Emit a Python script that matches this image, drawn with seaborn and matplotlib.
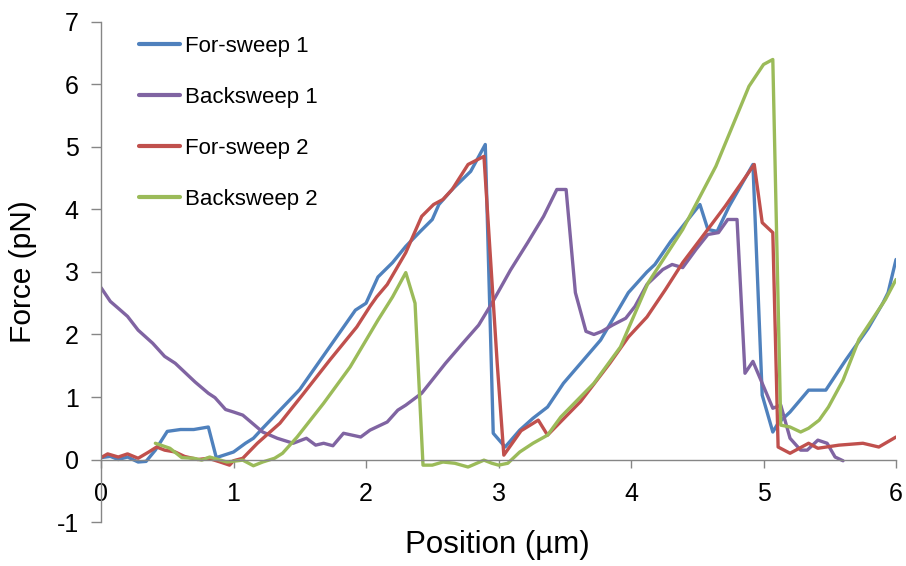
import matplotlib
matplotlib.use("Agg")
import matplotlib.pyplot as plt
import seaborn as sns
import pandas as pd

# ---- data ----
fs1_x = [0.0, 0.07, 0.13, 0.2, 0.28, 0.34, 0.41, 0.5, 0.6, 0.7, 0.81, 0.87, 1.0, 1.09, 1.15, 1.22,
         1.5, 1.92, 2.0, 2.09, 2.2, 2.3, 2.41, 2.5, 2.55, 2.65, 2.79, 2.9, 2.96, 3.05, 3.16, 3.26,
         3.37, 3.49, 3.62, 3.77, 3.98, 4.12, 4.18, 4.3, 4.43, 4.52, 4.58, 4.65, 4.74, 4.92, 4.99,
         5.07, 5.11, 5.2, 5.34, 5.47, 5.62, 5.79, 5.9, 5.94, 6.0]
fs1_y = [0.03, 0.05, 0.0, 0.04, -0.04, -0.03, 0.15, 0.45, 0.48, 0.48, 0.52, 0.03, 0.12, 0.26, 0.34, 0.5,
         1.12, 2.39, 2.5, 2.92, 3.15, 3.41, 3.65, 3.84, 4.08, 4.32, 4.61, 5.04, 0.42, 0.2, 0.47, 0.66,
         0.84, 1.22, 1.54, 1.91, 2.67, 3.0, 3.12, 3.49, 3.84, 4.08, 3.68, 3.65, 4.05, 4.72, 1.03,
         0.44, 0.58, 0.76, 1.11, 1.11, 1.59, 2.1, 2.5, 2.67, 3.2]

bs1_x = [0.0, 0.07, 0.13, 0.2, 0.28, 0.39, 0.48, 0.56, 0.71, 0.81, 0.86, 0.94, 1.0, 1.07, 1.22, 1.33,
         1.45, 1.55, 1.62, 1.68, 1.75, 1.83, 1.96, 2.03, 2.11, 2.16, 2.24, 2.3, 2.42, 2.6, 2.73, 2.85,
         2.95, 3.09, 3.22, 3.34, 3.44, 3.51, 3.58, 3.66, 3.72, 3.78, 3.86, 3.96, 4.03, 4.12, 4.24,
         4.31, 4.39, 4.49, 4.58, 4.66, 4.73, 4.8, 4.86, 4.92, 5.07, 5.13, 5.2, 5.28, 5.33, 5.41,
         5.48, 5.54, 5.6]
bs1_y = [2.75, 2.53, 2.42, 2.29, 2.07, 1.86, 1.65, 1.54, 1.24, 1.06, 0.99, 0.8, 0.76, 0.71, 0.44, 0.34,
         0.26, 0.34, 0.23, 0.26, 0.22, 0.42, 0.36, 0.47, 0.55, 0.6, 0.79, 0.87, 1.06, 1.54, 1.86, 2.15,
         2.5, 3.03, 3.47, 3.89, 4.32, 4.32, 2.67, 2.05, 2.0, 2.05, 2.15, 2.26, 2.45, 2.8, 3.04,
         3.12, 3.07, 3.36, 3.6, 3.63, 3.84, 3.84, 1.38, 1.57, 0.82, 0.87, 0.34, 0.15, 0.15, 0.31,
         0.26, 0.04, -0.02]

fs2_x = [0.0, 0.05, 0.13, 0.2, 0.28, 0.36, 0.42, 0.48, 0.56, 0.63, 0.73, 0.81, 0.9, 0.97, 1.0, 1.07,
         1.18, 1.35, 1.53, 1.73, 1.93, 2.03, 2.08, 2.16, 2.3, 2.42, 2.51, 2.58, 2.65, 2.77, 2.89,
         2.99, 3.04, 3.17, 3.3, 3.37, 3.62, 3.84, 3.98, 4.12, 4.26, 4.39, 4.54, 4.71, 4.93, 4.99,
         5.07, 5.11, 5.2, 5.34, 5.41, 5.57, 5.75, 5.87, 6.0]
fs2_y = [0.03, 0.09, 0.04, 0.09, 0.02, 0.12, 0.2, 0.15, 0.12, 0.05, 0.0, 0.02, -0.04, -0.09, -0.02, 0.02,
         0.26, 0.58, 1.06, 1.6, 2.12, 2.45, 2.6, 2.8, 3.31, 3.89, 4.08, 4.16, 4.32, 4.72, 4.85,
         1.54, 0.07, 0.46, 0.63, 0.39, 0.93, 1.54, 1.96, 2.28, 2.72, 3.15, 3.57, 4.05, 4.72, 3.79,
         3.63, 0.2, 0.1, 0.26, 0.18, 0.23, 0.26, 0.2, 0.36]

bs2_x = [0.41, 0.52, 0.61, 0.7, 0.76, 0.82, 0.95, 1.07, 1.15, 1.22, 1.31, 1.37, 1.48, 1.68, 1.88,
         2.09, 2.2, 2.3, 2.37, 2.43, 2.5, 2.58, 2.67, 2.77, 2.89, 2.95, 3.0, 3.07, 3.16, 3.26, 3.37,
         3.47, 3.72, 3.92, 4.13, 4.39, 4.64, 4.89, 5.0, 5.07, 5.13, 5.2, 5.28, 5.34, 5.42, 5.49,
         5.6, 5.72, 5.82, 5.92, 6.0]
bs2_y = [0.26, 0.18, 0.03, 0.02, -0.01, 0.04, -0.04, -0.01, -0.1, -0.04, 0.02, 0.1, 0.36, 0.9, 1.48,
         2.23, 2.6, 2.99, 2.5, -0.09, -0.09, -0.04, -0.06, -0.12, -0.01, -0.06, -0.09, -0.06, 0.12, 0.26, 0.39,
         0.68, 1.22, 1.8, 2.83, 3.68, 4.69, 5.97, 6.32, 6.4, 0.55, 0.52, 0.44, 0.5, 0.63, 0.84,
         1.27, 1.92, 2.24, 2.56, 2.88]

series_names = ["For-sweep 1", "Backsweep 1", "For-sweep 2", "Backsweep 2"]
series_colors = ["#4F81BD", "#8064A2", "#C0504D", "#9BBB59"]

frames = []
for name, xs, ys in zip(series_names,
                        [fs1_x, bs1_x, fs2_x, bs2_x],
                        [fs1_y, bs1_y, fs2_y, bs2_y]):
    frames.append(pd.DataFrame({"Position": xs, "Force": ys, "Series": name}))
df = pd.concat(frames, ignore_index=True)

sns.set_style("white")
plt.rcParams["font.family"] = ["Liberation Sans", "DejaVu Sans"]
plt.rcParams["axes.unicode_minus"] = False
plt.rcParams["text.color"] = "black"
plt.rcParams["axes.labelcolor"] = "black"
plt.rcParams["xtick.color"] = "black"
plt.rcParams["ytick.color"] = "black"

fig = plt.figure(figsize=(9.06, 5.66), dpi=100)
ax = fig.add_axes([0.1115, 0.0777, 0.8775, 0.8835])

sns.lineplot(data=df, x="Position", y="Force", hue="Series", hue_order=series_names,
             palette=series_colors, sort=False, estimator=None, linewidth=2.4, ax=ax)

ax.set_xlim(0, 6)
ax.set_ylim(-1, 7)
ax.set_xticks(range(0, 7))
ax.set_yticks(range(-1, 8))

for s in ["top", "right"]:
    ax.spines[s].set_visible(False)
axis_col = "#868686"
ax.spines["left"].set_color(axis_col)
ax.spines["left"].set_linewidth(1.0)
ax.spines["bottom"].set_position(("data", 0))
ax.spines["bottom"].set_color(axis_col)
ax.spines["bottom"].set_linewidth(1.0)

ax.tick_params(axis="y", direction="out", length=7, width=1, color=axis_col,
               labelsize=18, labelcolor="black", pad=9, left=True)
ax.tick_params(axis="x", direction="out", length=6, width=1, color=axis_col,
               labelsize=18, labelcolor="black", pad=10, bottom=True)

ax.set_xlabel("Position (µm)", fontsize=22.5, color="black")
ax.set_ylabel("Force (pN)", fontsize=21.5, color="black")
ax.xaxis.set_label_coords(0.499, -0.016)
ax.yaxis.set_label_coords(-0.081, 0.5)

leg = ax.legend(loc="upper left", bbox_to_anchor=(0.022, 1.012), frameon=False, fontsize=16,
                handlelength=1.85, handletextpad=0.25, labelspacing=1.35)
for line in leg.get_lines():
    line.set_linewidth(3)
for t in leg.get_texts():
    t.set_color("black")

fig.savefig("out.png", dpi=100)
